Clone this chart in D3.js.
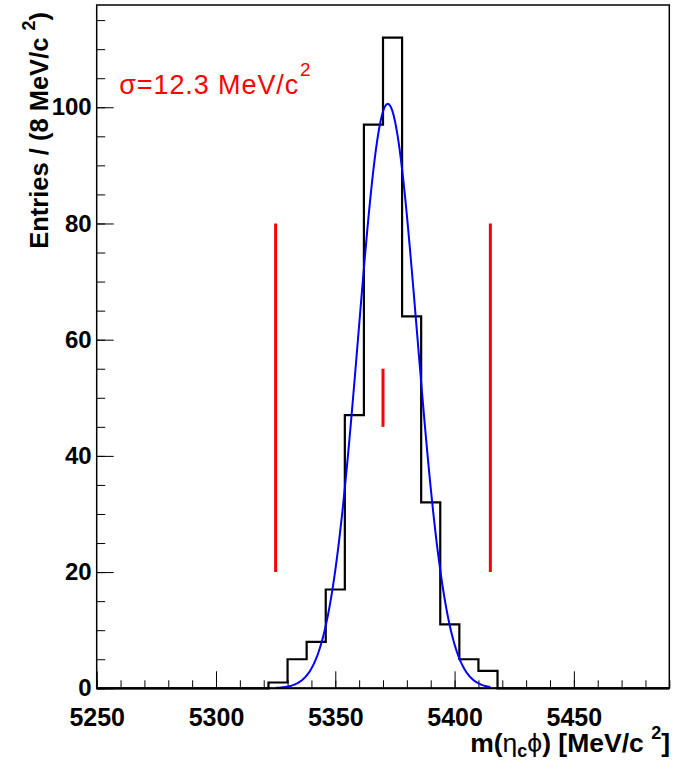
<!DOCTYPE html>
<html>
<head>
<meta charset="utf-8">
<script src="https://cdn.jsdelivr.net/npm/d3@7"></script>
<style>
  html, body { margin: 0; padding: 0; background: #fff; }
  svg { display: block; font-family: "Liberation Sans", Arial, Helvetica, sans-serif; }
</style>
</head>
<body>
<svg id="chart" width="673" height="761"></svg>
<script>
// ---- data ----
const binStart = 5250;
const binWidth = 8;
const counts = [0,0,0,0,0,0,0,0,0, 1,5,8,17,47,97,112,64,32,11,5,3, 0,0,0,0,0,0,0,0,0];
const xMajorTicks = [5250, 5300, 5350, 5400, 5450];
const yMajorTicks = [0, 20, 40, 60, 80, 100];
const fitParams = [100.6, 5372.0, 12.3];   // amplitude, mean, sigma
const fitRange = [5325, 5415];
const windowLines = [[5325, 20, 80], [5415, 20, 80], [5370, 45, 55]]; // x, y1, y2
const sigmaLabel = "σ=12.3 MeV/c";

// ---- layout ----
const svg = d3.select("#chart");
const L = 96.7, R = 669.3, T = 5, B = 688.3;
const x = d3.scaleLinear().domain([5250, 5490]).range([L, R]);
const y = d3.scaleLinear().domain([0, 117.6]).range([B, T]);

svg.append("rect").attr("width", 673).attr("height", 761).attr("fill", "#fff");

// minor ticks
const xMinor = d3.range(5250, 5491, 10);
const yMinor = d3.range(0, 117, 5);
svg.append("g").attr("transform", `translate(0,${B})`)
  .call(d3.axisBottom(x).tickValues(xMinor).tickSize(-8).tickFormat(""))
  .call(g => g.select(".domain").remove())
  .call(g => g.selectAll("line").attr("stroke", "#000").attr("stroke-width", 1));
svg.append("g").attr("transform", `translate(${L},0)`)
  .call(d3.axisLeft(y).tickValues(yMinor).tickSize(-8.5).tickFormat(""))
  .call(g => g.select(".domain").remove())
  .call(g => g.selectAll("line").attr("stroke", "#000").attr("stroke-width", 1));

// major ticks + labels
svg.append("g").attr("transform", `translate(0,${B})`)
  .call(d3.axisBottom(x).tickValues(xMajorTicks).tickSize(-17).tickPadding(20).tickFormat(d3.format("d")))
  .call(g => g.select(".domain").remove())
  .call(g => g.selectAll("line").attr("stroke", "#000").attr("stroke-width", 1))
  .call(g => g.selectAll("text").attr("fill", "#000").attr("font-size", 25).attr("font-weight", "bold")
      .attr("font-family", "Liberation Sans, Arial, sans-serif"));
svg.append("g").attr("transform", `translate(${L},0)`)
  .call(d3.axisLeft(y).tickValues(yMajorTicks).tickSize(-17).tickPadding(5).tickFormat(d3.format("d")))
  .call(g => g.select(".domain").remove())
  .call(g => g.selectAll("line").attr("stroke", "#000").attr("stroke-width", 1))
  .call(g => g.selectAll("text").attr("fill", "#000").attr("font-size", 24).attr("font-weight", "bold")
      .attr("font-family", "Liberation Sans, Arial, sans-serif"));

// histogram outline
const pts = [];
counts.forEach((c, i) => {
  const lo = binStart + i * binWidth, hi = lo + binWidth;
  pts.push([lo, c], [hi, c]);
});
svg.append("path")
  .attr("d", d3.line().x(d => x(d[0])).y(d => y(d[1]))(pts))
  .attr("fill", "none").attr("stroke", "#000").attr("stroke-width", 2.2);

// gaussian fit
const [A, mu, sg] = fitParams;
const fitPts = d3.range(fitRange[0], fitRange[1] + 0.01, 0.5).map(v => [v, A * Math.exp(-0.5 * ((v - mu) / sg) ** 2)]);
svg.append("path")
  .attr("d", d3.line().x(d => x(d[0])).y(d => y(d[1]))(fitPts))
  .attr("fill", "none").attr("stroke", "#0000ff").attr("stroke-width", 2);

// red window lines
svg.selectAll("line.win").data(windowLines).join("line").attr("class", "win")
  .attr("x1", d => x(d[0])).attr("x2", d => x(d[0]))
  .attr("y1", d => y(d[1])).attr("y2", d => y(d[2]))
  .attr("stroke", "#ff0000").attr("stroke-width", 3);

// frame
svg.append("rect").attr("x", L).attr("y", T).attr("width", R - L).attr("height", B - T)
  .attr("fill", "none").attr("stroke", "#000").attr("stroke-width", 1.5);
svg.append("line").attr("x1", L).attr("x2", R).attr("y1", B).attr("y2", B)
  .attr("stroke", "#000").attr("stroke-width", 2);

// sigma text
const st = svg.append("text").attr("x", 119.3).attr("y", 94.3)
  .attr("fill", "#ff0000").attr("font-size", 27).attr("letter-spacing", 0.9);
st.append("tspan").text(sigmaLabel);
st.append("tspan").attr("font-size", 19).attr("dy", -18).attr("dx", 1).text("2");

// x title
const xt = svg.append("text").attr("x", 670).attr("y", 752).attr("text-anchor", "end")
  .attr("font-size", 26.5).attr("font-weight", "bold").attr("fill", "#000");
xt.append("tspan").text("m(");
xt.append("tspan").attr("font-weight", "normal").text("η");
xt.append("tspan").attr("font-size", 18).attr("dy", 5).text("c");
xt.append("tspan").attr("dy", -5).attr("font-weight", "normal").text("ϕ");
xt.append("tspan").text(") [MeV/c ");
xt.append("tspan").attr("font-size", 18).attr("dy", -13).text("2");
xt.append("tspan").attr("dy", 13).text("]");

// y title
const yt = svg.append("text").attr("transform", "translate(48,12) rotate(-90)")
  .attr("text-anchor", "end").attr("font-size", 25.5).attr("font-weight", "bold").attr("fill", "#000");
yt.append("tspan").text("Entries / (8 MeV/c ");
yt.append("tspan").attr("font-size", 18).attr("dy", -13).text("2");
yt.append("tspan").attr("dy", 13).text(")");
</script>
</body>
</html>
